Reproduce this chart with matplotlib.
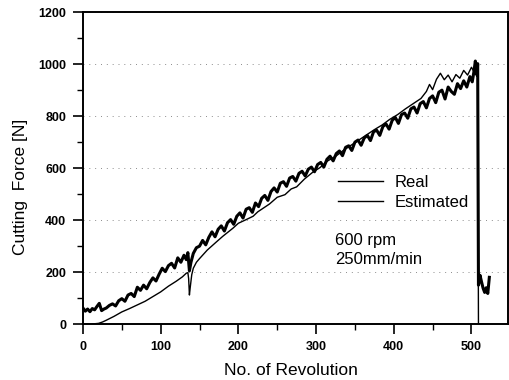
import numpy as np
import matplotlib.pyplot as plt
from matplotlib.lines import Line2D
from matplotlib.ticker import MultipleLocator

plt.rcParams['font.family'] = ['Liberation Sans', 'DejaVu Sans']

real_x = [0, 3, 6, 9, 12, 15, 18, 21, 24, 27,
          30, 34, 38, 42, 46, 50, 54, 58, 62, 66,
          70, 74, 78, 82, 86, 90, 94, 98, 102, 106,
          110, 114, 118, 122, 126, 130, 133, 135, 137, 139,
          142, 146, 150, 154, 158, 162, 166, 170, 174, 178,
          182, 186, 190, 194, 198, 202, 206, 210, 214, 218,
          222, 226, 230, 234, 238, 242, 246, 250, 254, 258,
          262, 266, 270, 274, 278, 282, 286, 290, 294, 298,
          302, 306, 310, 314, 318, 322, 326, 330, 334, 338,
          342, 346, 350, 354, 358, 362, 366, 370, 374, 378,
          382, 386, 390, 394, 398, 402, 406, 410, 414, 418,
          422, 426, 430, 434, 438, 442, 446, 450, 454, 458,
          462, 466, 470, 474, 478, 482, 486, 490, 494, 498,
          501, 503, 505, 507, 508, 509, 511, 513, 515, 517,
          519, 521, 523]
real_y = [62, 50, 58, 48, 60, 55, 68, 80, 52, 58,
          62, 72, 78, 70, 90, 98, 88, 112, 118, 106,
          142, 130, 150, 136, 160, 178, 166, 192, 215, 202,
          225, 234, 216, 255, 238, 265, 248, 275, 205, 238,
          272, 294, 300, 322, 305, 334, 355, 336, 365, 378,
          358, 390, 402, 384, 415, 428, 408, 442, 448, 430,
          466, 452, 484, 495, 476, 510, 524, 508, 542, 548,
          530, 562, 568, 550, 580, 588, 570, 596, 604, 586,
          614, 622, 604, 634, 646, 628, 656, 666, 648, 680,
          686, 668, 700, 708, 688, 716, 726, 706, 740, 746,
          726, 760, 770, 750, 784, 795, 772, 806, 812, 792,
          828, 835, 812, 848, 856, 832, 868, 878, 852, 892,
          900, 866, 912, 895, 884, 925, 906, 936, 912, 952,
          932, 968, 1012, 958, 1002, 150, 188, 162, 138, 122,
          140, 118, 180]

# estimated cutting force
est_x = [0, 10, 20, 25, 30, 40, 50, 60, 70, 80,
         90, 100, 110, 120, 128, 133, 135, 136, 137, 138,
         140, 142, 146, 150, 160, 172, 180, 193, 200, 210,
         219, 225, 232, 240, 250, 260, 268, 275, 285, 296,
         305, 315, 325, 335, 345, 355, 365, 375, 385, 395,
         405, 415, 425, 435, 442, 446, 450, 455, 460, 465,
         470, 475, 480, 485, 490, 495, 500, 503, 506, 508,
         509, 515, 522]
est_y = [0, 0, 3, 8, 15, 30, 47, 60, 74, 88,
         106, 124, 146, 165, 182, 196, 198, 175, 112, 140,
         190, 215, 238, 252, 285, 317, 338, 369, 388, 402,
         415, 432, 446, 462, 488, 498, 520, 528, 558, 585,
         602, 628, 645, 668, 688, 708, 728, 748, 766, 788,
         806, 828, 848, 868, 895, 922, 902, 942, 965, 940,
         958, 932, 960, 946, 976, 958, 988, 972, 1000, 995,
         0, 0, 0]

fig = plt.figure(figsize=(5.09, 3.80), dpi=100)
ax = fig.add_axes([0.163, 0.147, 0.835, 0.821])

ax.plot(real_x, real_y, color='black', lw=2.2)
ax.plot(est_x, est_y, color='black', lw=1.0)

ax.set_xlim(0, 547)
ax.set_ylim(0, 1200)
ax.xaxis.set_major_locator(MultipleLocator(100))
ax.xaxis.set_minor_locator(MultipleLocator(50))
ax.yaxis.set_major_locator(MultipleLocator(200))
ax.yaxis.set_minor_locator(MultipleLocator(100))
ax.set_xticks([0, 100, 200, 300, 400, 500])

ax.grid(axis='y', which='major', color='0.55', linestyle=(0, (1, 5)), lw=0.7)
ax.tick_params(which='major', length=7, width=1.2, labelsize=9, pad=5)
ax.tick_params(which='minor', length=4, width=1.0)
for lab in ax.get_xticklabels() + ax.get_yticklabels():
    lab.set_fontweight('bold')
for sp in ax.spines.values():
    sp.set_linewidth(1.4)

ax.set_xlabel('No. of Revolution', fontsize=12.5)
ax.set_ylabel('Cutting  Force [N]', fontsize=12.5)
ax.xaxis.set_label_coords(0.49, -0.125)
ax.yaxis.set_label_coords(-0.13, 0.44)

handles = [Line2D([], [], color='black', lw=1.0),
           Line2D([], [], color='black', lw=1.0)]
ax.legend(handles, ['Real', 'Estimated'], loc='upper left',
          bbox_to_anchor=(0.6, 0.478), frameon=False, fontsize=12,
          handlelength=2.7, handletextpad=0.7, borderpad=0,
          borderaxespad=0, labelspacing=0.3)

ax.text(324, 323, '600 rpm', fontsize=12, va='center')
ax.text(324, 250, '250mm/min', fontsize=12, va='center')

fig.savefig('out.png', dpi=100)
